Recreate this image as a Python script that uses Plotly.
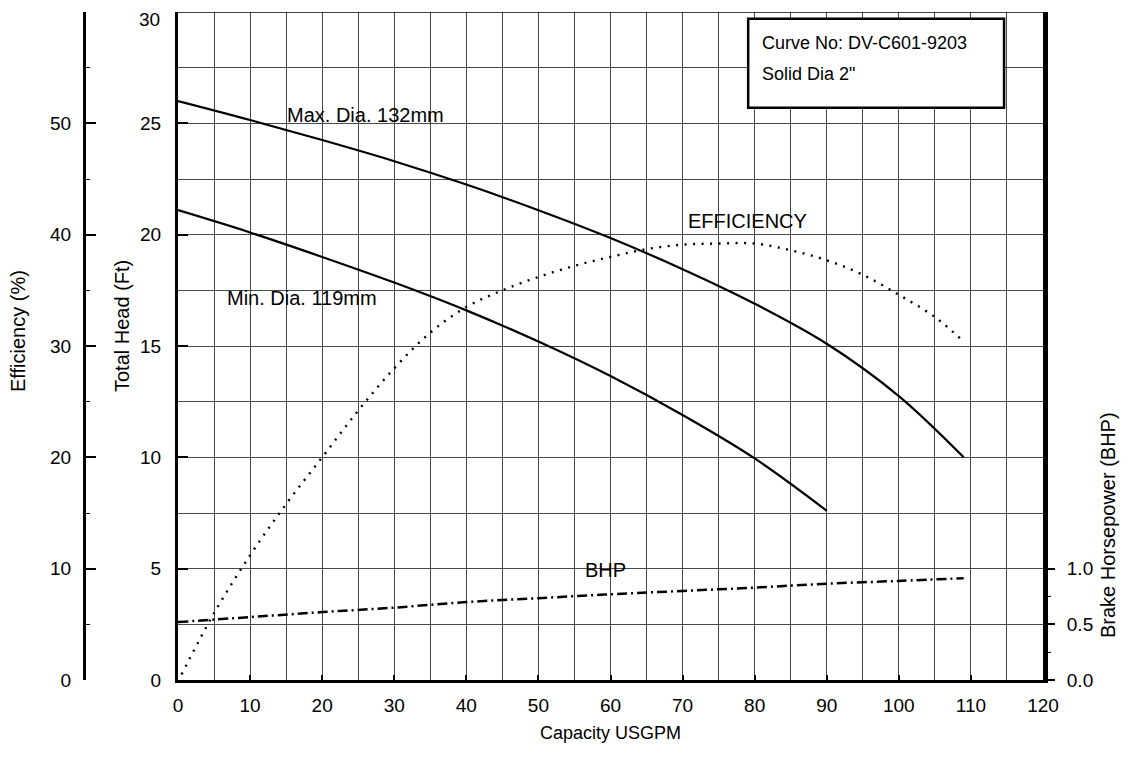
import plotly.graph_objects as go

# ---- data ----
gpm_max = [0, 10, 20, 30, 40, 50, 60, 70, 80, 90, 100, 109]
head_max = [26.0, 25.15, 24.25, 23.3, 22.25, 21.1, 19.85, 18.45, 16.9, 15.1, 12.75, 10.0]

gpm_min = [0, 10, 20, 30, 40, 50, 60, 70, 80, 90]
head_min = [21.1, 20.1, 19.0, 17.85, 16.6, 15.2, 13.65, 11.9, 9.95, 7.6]

gpm_eff = [0.5, 5, 10, 15, 20, 25, 30, 35, 40, 45, 50, 55, 60, 65, 70, 75, 80, 85, 90, 95, 100, 105, 109]
eff = [0.5, 6.0, 11.2, 15.8, 20.0, 24.2, 28.0, 31.2, 33.5, 35.0, 36.2, 37.2, 38.0, 38.7, 39.1, 39.2, 39.2, 38.6, 37.7, 36.4, 34.6, 32.6, 30.4]

gpm_bhp = [0, 10, 20, 30, 40, 50, 60, 70, 80, 90, 100, 109]
bhp = [0.52, 0.565, 0.61, 0.65, 0.70, 0.735, 0.77, 0.80, 0.83, 0.865, 0.89, 0.915]

x_ticks = [0, 10, 20, 30, 40, 50, 60, 70, 80, 90, 100, 110, 120]
head_ticks = [0, 5, 10, 15, 20, 25, 30]
head_labels = ["0", "5", "10", "15", "20", "25", ""]  # "30" drawn separately so it is not clipped
eff_ticks = [0, 10, 20, 30, 40, 50]
bhp_ticks = [0, 0.5, 1.0]
bhp_labels = ["0.0", "0.5", "1.0"]

FONT = "Liberation Sans, Arial, Helvetica, sans-serif"
OFF = 8  # page body margin
W, H = 1128 - 2 * OFF, 773 - 2 * OFF
L_PX, R_PX, T_PX, B_PX = 178 - OFF, 1043 - OFF, 12 - OFF, 680 - OFF


def px(xp):
    return (xp - OFF) / W


def py(yp):
    return (B_PX - (yp - OFF)) / (B_PX - T_PX)


fig = go.Figure()
fig.add_trace(go.Scatter(x=gpm_max, y=head_max, mode="lines", line=dict(color="black", width=2.2, shape="spline"), yaxis="y"))
fig.add_trace(go.Scatter(x=gpm_min, y=head_min, mode="lines", line=dict(color="black", width=2.2, shape="spline"), yaxis="y"))
fig.add_trace(go.Scatter(x=gpm_eff, y=eff, mode="lines", line=dict(color="black", width=2.4, dash="2px,6.5px", shape="spline"), yaxis="y2"))
fig.add_trace(go.Scatter(x=gpm_bhp, y=bhp, mode="lines", line=dict(color="black", width=2.5, dash="10px,4px,2px,4px", shape="spline"), yaxis="y3"))

grid = "#4a4a4a"
fig.update_layout(
    template="none",
    width=W, height=H,
    margin=dict(l=0, r=0, t=T_PX, b=H - B_PX, pad=0),
    paper_bgcolor="white", plot_bgcolor="white",
    showlegend=False,
    font=dict(family=FONT, size=19, color="black"),
    xaxis=dict(
        domain=[L_PX / W, R_PX / W], range=[0, 120], automargin=False,
        tickvals=x_ticks, ticks="inside", ticklen=5, tickwidth=2, tickcolor="black",
        showline=True, linewidth=3, linecolor="black",
        showgrid=True, gridcolor=grid, gridwidth=1,
        minor=dict(dtick=5, showgrid=True, gridcolor=grid, gridwidth=1),
        ticklabelstandoff=6, zeroline=False, ticklabeloverflow="allow",
        tickfont=dict(size=19),
    ),
    yaxis=dict(
        range=[0, 30], automargin=False, tickvals=head_ticks, ticktext=head_labels,
        ticks="inside", ticklen=10, tickwidth=1.5, tickcolor="black",
        showline=True, linewidth=3, linecolor="black",
        showgrid=True, gridcolor=grid, gridwidth=1,
        minor=dict(dtick=2.5, showgrid=True, gridcolor=grid, gridwidth=1),
        ticklabelstandoff=10, zeroline=False, ticklabeloverflow="allow",
        tickfont=dict(size=19),
    ),
    yaxis2=dict(
        range=[0, 60], automargin=False, overlaying="y", anchor="free", position=px(84), side="left",
        tickvals=eff_ticks, ticks="inside", ticklen=10, tickwidth=1.5, tickcolor="black",
        minor=dict(tickvals=[5, 15, 25, 35, 45, 55], ticks="inside", ticklen=4, tickcolor="black", tickwidth=1),
        showline=True, linewidth=3, linecolor="black", showgrid=False, zeroline=False,
        ticklabelstandoff=8, ticklabeloverflow="allow",
        tickfont=dict(size=19),
    ),
    yaxis3=dict(
        range=[0, 6], automargin=False, overlaying="y", anchor="x", side="right",
        tickvals=bhp_ticks, ticktext=bhp_labels, ticks="outside", ticklen=7, tickwidth=1.5, tickcolor="black",
        minor=dict(tickvals=[0.25, 0.75], ticks="outside", ticklen=3, tickcolor="black", tickwidth=1),
        showline=True, linewidth=5, linecolor="black", showgrid=False, zeroline=False,
        ticklabelstandoff=8, ticklabeloverflow="allow",
        tickfont=dict(size=19),
    ),
)

# top border line (thin)
fig.add_shape(type="line", xref="paper", yref="y", x0=L_PX / W, x1=R_PX / W, y0=30, y1=30, line=dict(color="black", width=1.5))

# top head tick label, kept inside the page
fig.add_annotation(x=px(161), y=1.0, yref="paper", xref="paper", text="30", showarrow=False,
                   xanchor="right", yanchor="top", yshift=T_PX, borderpad=0, font=dict(size=19))

# info box
fig.add_shape(type="rect", xref="x", yref="y", x0=79.1, x1=114.6, y0=25.7, y1=29.7,
              line=dict(color="black", width=2.5), fillcolor="white", layer="above")
fig.add_annotation(x=80.8, y=28.62, xref="x", yref="y", text="Curve No: DV-C601-9203", showarrow=False,
                   xanchor="left", yanchor="middle", font=dict(size=18))
fig.add_annotation(x=80.8, y=27.2, xref="x", yref="y", text="Solid Dia 2\"", showarrow=False,
                   xanchor="left", yanchor="middle", font=dict(size=18))

# curve labels
labels = [
    ("Max. Dia. 132mm", 15.1, 25.37),
    ("Min. Dia. 119mm", 6.8, 17.15),
    ("EFFICIENCY", 70.75, 20.6),
    ("BHP", 56.5, 4.94),
]
for t, xv, yv in labels:
    fig.add_annotation(x=xv, y=yv, xref="x", yref="y", text=t, showarrow=False,
                       xanchor="left", yanchor="middle", font=dict(size=20), xshift=-2)

# axis titles
fig.add_annotation(x=px(18), y=py(331), xref="paper", yref="paper", text="Efficiency (%)",
                   textangle=-90, showarrow=False, xanchor="center", yanchor="middle", font=dict(size=20))
fig.add_annotation(x=px(122), y=py(326), xref="paper", yref="paper", text="Total Head (Ft)",
                   textangle=-90, showarrow=False, xanchor="center", yanchor="middle", font=dict(size=20))
fig.add_annotation(x=px(1108), y=py(525), xref="paper", yref="paper", text="Brake Horsepower (BHP)",
                   textangle=-90, showarrow=False, xanchor="center", yanchor="middle", font=dict(size=20))
fig.add_annotation(x=px(610), y=py(733), xref="paper", yref="paper", text="Capacity USGPM",
                   showarrow=False, xanchor="center", yanchor="middle", font=dict(size=18))

fig.write_html("out.html")
